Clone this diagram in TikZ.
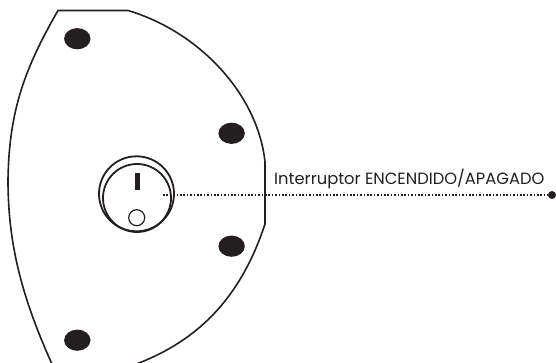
\documentclass[tikz,border=0pt]{standalone}
\usepackage{fontspec}
\newfontfamily\lblfont{Poppins}[Scale=1]
\definecolor{ink}{HTML}{231F20}
\tikzset{
  body/.style={draw=ink,line width=1.6pt,line join=round},
  hole/.style={fill=ink,draw=none},
  ring/.style={draw=ink,line width=1.8pt},
  lead/.style={draw=ink,line width=1.6pt,dash pattern=on 1.5pt off 1.9pt},
  lbl/.style={font=\lblfont\fontsize{16.3}{18}\selectfont,text=ink,inner sep=0pt,anchor=base west}
}
\begin{document}
\begin{tikzpicture}[x=1pt,y=-1pt]
\useasboundingbox (0,0) rectangle (556,363);
\clip (0,0) rectangle (556,363);
\draw[body] (57,375) .. controls (22,300) and (8,245) .. (8,180) .. controls (9,110) and (25,68) .. (58,10.5) -- (128,10.5) .. controls (200,32) and (258,95) .. (265,162) -- (265,224) .. controls (240,300) and (195,345) .. (125,368);
\path[hole] (77.3,38.7) ellipse [x radius=13.2,y radius=10.6];
\path[hole] (231.6,133.3) ellipse [x radius=13.2,y radius=10.6];
\path[hole] (231.6,246.2) ellipse [x radius=13.2,y radius=10.6];
\path[hole] (77.3,340.2) ellipse [x radius=13.2,y radius=10.6];
\draw[ring] (136.5,193.8) circle [radius=37.5];
\draw[ring] (137,198) circle [radius=34];
\draw[ring,line width=1.2pt] (136.7,217.7) circle [radius=8];
\path[fill=ink] (134.5,173) rectangle (139.5,190);
\node[lbl] (label) at (274,184.5) {Interruptor ENCENDIDO/APAGADO};
\coordinate (start) at (163,195);
\node[circle,fill=ink,inner sep=0pt,minimum size=8pt] (end) at (552,195) {};
\draw[lead] (start) -- (end);
\end{tikzpicture}
\end{document}
